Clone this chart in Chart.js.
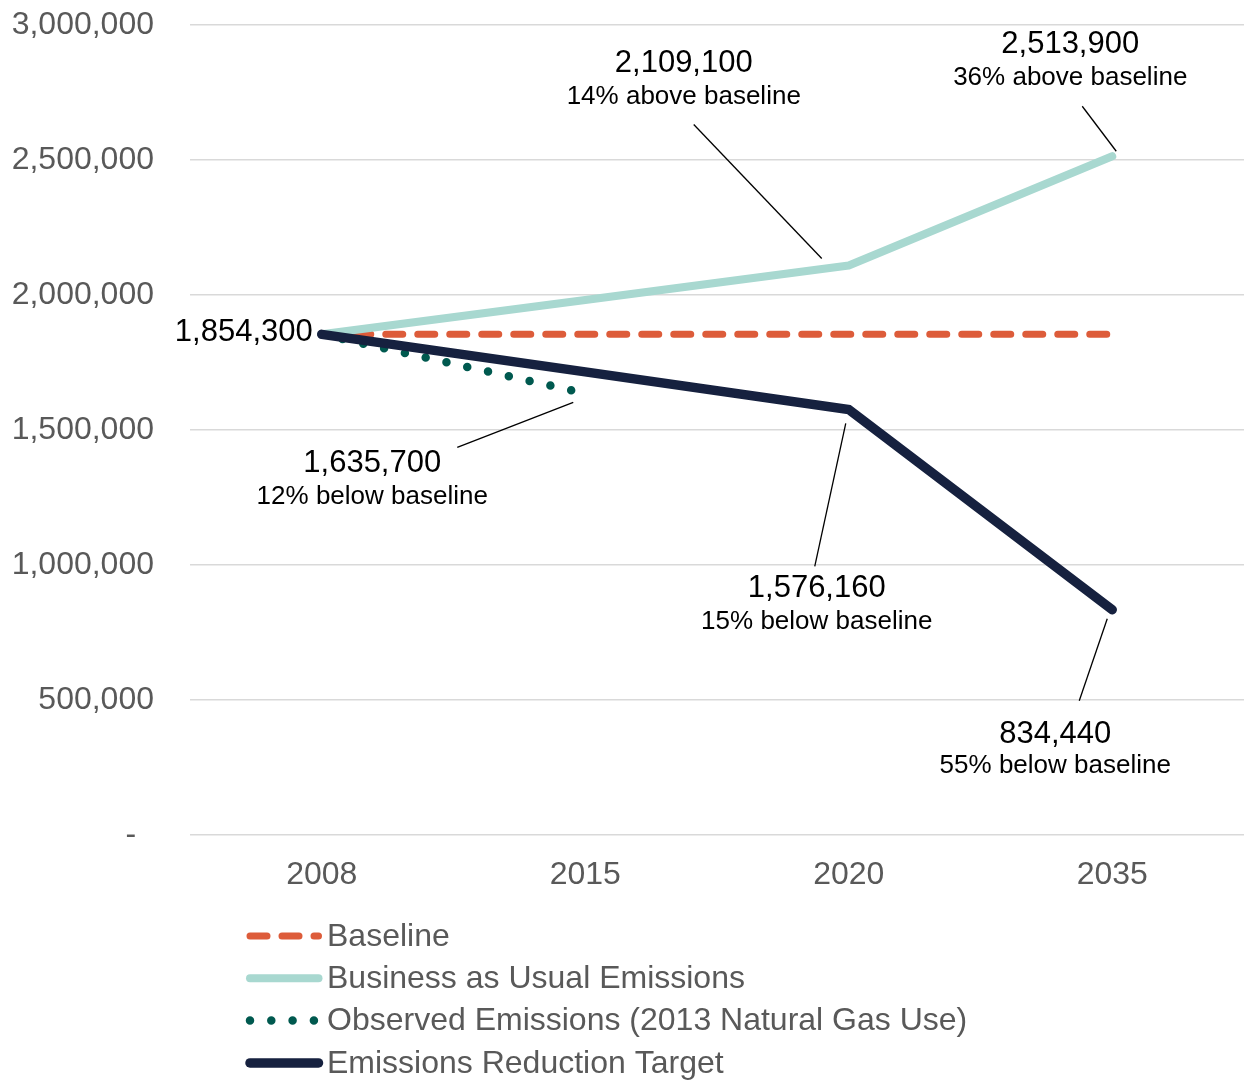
<!DOCTYPE html>
<html>
<head>
<meta charset="utf-8">
<title>Emissions</title>
<script src="https://cdn.jsdelivr.net/npm/chart.js@4.4.1/dist/chart.umd.min.js"></script>
<style>
  html, body { margin: 0; padding: 0; background: #fff; }
  #wrap { width: 1244px; height: 1081px; }
</style>
</head>
<body>
<div id="wrap"><canvas id="chart" width="1244" height="1081"></canvas></div>
<script>
// chart data
var years = ['2008', '2015', '2020', '2035'];
var baseline = [1854300, 1854300, 1854300, 1854300];
var businessAsUsual = [1854300, 1981700, 2109100, 2513900];
var observed = [1854300, 1635700, null, null];
var reductionTarget = [1854300, 1715230, 1576160, 834440];
var yTicks = [0, 500000, 1000000, 1500000, 2000000, 2500000, 3000000];

var seriesNames = ['Baseline', 'Business as Usual Emissions', 'Observed Emissions (2013 Natural Gas Use)', 'Emissions Reduction Target'];

const FONT = "'Liberation Sans', Arial, sans-serif";
const GRAY = '#595959';

function fmt(v){ return v.toLocaleString('en-US'); }
function pctText(v){
  var p = Math.round(Math.abs(v - baseline[0]) / baseline[0] * 100);
  return p + '% ' + (v >= baseline[0] ? 'above' : 'below') + ' baseline';
}

// callouts: which series/point, label offset from the point (px) and leader line
var callouts = [
  { data: businessAsUsual, idx: 2, dx: -165, dyVal: -194, dySub: -162, line: [-155, -141, -27, -7] },
  { data: businessAsUsual, idx: 3, dx: -42, dyVal: -103, dySub: -71, line: [-30, -50, 4, -5] },
  { data: observed, idx: 1, dx: -213, dyVal: 79, dySub: 111, line: [-128, 54, -12, 9] },
  { data: reductionTarget, idx: 2, dx: -32, dyVal: 188, dySub: 220, line: [-34, 157, -3, 14] },
  { data: reductionTarget, idx: 3, dx: -57, dyVal: 133, dySub: 163, line: [-33, 91, -5, 9] }
];

var calloutPlugin = {
  id: 'callouts',
  afterDatasetsDraw: function(chart){
    var ctx = chart.ctx, xs = chart.scales.x, ys = chart.scales.y;
    ctx.save();
    ctx.fillStyle = '#000';
    ctx.strokeStyle = '#000';
    ctx.lineWidth = 1.3;
    ctx.textBaseline = 'alphabetic';
    callouts.forEach(function(c){
      var v = c.data[c.idx];
      var px = xs.getPixelForValue(c.idx), py = ys.getPixelForValue(v);
      ctx.beginPath();
      ctx.moveTo(px + c.line[0], py + c.line[1]);
      ctx.lineTo(px + c.line[2], py + c.line[3]);
      ctx.stroke();
      ctx.textAlign = 'center';
      ctx.font = '31px ' + FONT;
      ctx.fillText(fmt(v), px + c.dx, py + c.dyVal);
      ctx.font = '26px ' + FONT;
      ctx.fillText(pctText(v), px + c.dx, py + c.dySub);
    });
    // start value label
    var sx = xs.getPixelForValue(0), sy = ys.getPixelForValue(baseline[0]);
    ctx.textAlign = 'right';
    ctx.font = '31px ' + FONT;
    ctx.fillText(fmt(baseline[0]), sx - 9, sy + 7);
    ctx.restore();
  }
};

// legend stacked one per row under the axis
var legendPlugin = {
  id: 'stackedLegend',
  afterDraw: function(chart){
    var ctx = chart.ctx;
    var top = chart.chartArea.bottom + 101;
    ctx.save();
    chart.data.datasets.forEach(function(ds, i){
      var y = top + i * 42.3;
      ctx.beginPath();
      ctx.strokeStyle = ds.borderColor;
      ctx.lineWidth = ds.borderWidth;
      ctx.lineCap = 'round';
      ctx.setLineDash(ds.borderDash || []);
      ctx.moveTo(250, y);
      ctx.lineTo(318.5, y);
      ctx.stroke();
      ctx.setLineDash([]);
      ctx.fillStyle = GRAY;
      ctx.font = '32px ' + FONT;
      ctx.textAlign = 'left';
      ctx.textBaseline = 'middle';
      ctx.fillText(ds.label, 327, y + 1);
    });
    ctx.restore();
  }
};

Chart.defaults.font.family = FONT;

new Chart(document.getElementById('chart'), {
  type: 'line',
  data: {
    labels: years,
    datasets: [
      { label: seriesNames[0], data: baseline, borderColor: '#DD5C3A', borderWidth: 7,
        borderDash: [17, 15], borderCapStyle: 'round', order: 4 },
      { label: seriesNames[1], data: businessAsUsual, borderColor: '#A8D8D0', borderWidth: 8,
        borderCapStyle: 'round', borderJoinStyle: 'round', order: 2 },
      { label: seriesNames[2], data: observed, borderColor: '#00594F', borderWidth: 8.5,
        borderDash: [0, 21.3], borderCapStyle: 'round', order: 3 },
      { label: seriesNames[3], data: reductionTarget, borderColor: '#16213F', borderWidth: 9.5,
        borderCapStyle: 'round', borderJoinStyle: 'miter', order: 1 }
    ]
  },
  options: {
    responsive: false,
    animation: false,
    layout: { padding: { top: 25, right: 0, bottom: 186, left: 0 } },
    elements: { point: { radius: 0, hoverRadius: 0 }, line: { tension: 0, fill: false } },
    plugins: { legend: { display: false }, tooltip: { enabled: false } },
    scales: {
      x: {
        offset: true,
        grid: { display: false, drawTicks: false },
        border: { display: false },
        ticks: { color: GRAY, font: { size: 32 }, padding: 21, maxRotation: 0 },
        afterFit: function(s){ s.height = 60; s.paddingLeft = 0; s.paddingRight = 0; }
      },
      y: {
        min: 0, max: 3000000,
        afterBuildTicks: function(s){ s.ticks = yTicks.map(function(v){ return { value: v }; }); },
        grid: { color: '#D9D9D9', lineWidth: 1.5, drawTicks: false },
        border: { display: false },
        ticks: {
          color: GRAY, font: { size: 32 }, padding: 36,
          callback: function(v){ return v === 0 ? '-  ' : fmt(v); }
        },
        afterFit: function(s){ s.width = 190; s.paddingTop = 0; s.paddingBottom = 0; }
      }
    }
  },
  plugins: [calloutPlugin, legendPlugin]
});
</script>
</body>
</html>
